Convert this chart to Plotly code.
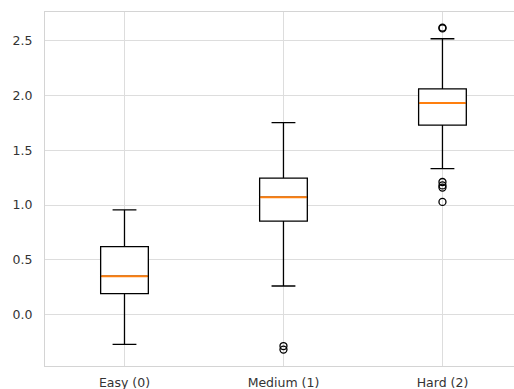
import plotly.graph_objects as go

categories = ["Easy (0)", "Medium (1)", "Hard (2)"]
positions = [1, 2, 3]
lower_whisker = [-0.270, 0.262, 1.333]
q1 = [0.192, 0.853, 1.730]
median = [0.351, 1.072, 1.931]
q3 = [0.621, 1.246, 2.061]
upper_whisker = [0.956, 1.753, 2.518]
outliers = [
    [],
    [-0.286, -0.318],
    [2.612, 2.620, 1.211, 1.180, 1.160, 1.029],
]

box_width = 0.3
fig = go.Figure()
for i, cat in enumerate(categories):
    fig.add_trace(go.Box(
        x=[positions[i]], q1=[q1[i]], median=[median[i]], q3=[q3[i]],
        lowerfence=[lower_whisker[i]], upperfence=[upper_whisker[i]],
        width=box_width, whiskerwidth=0.5, boxpoints=False,
        fillcolor="white", line=dict(color="black", width=1.3),
        showlegend=False, hoverinfo="skip",
    ))
    fig.add_trace(go.Scatter(
        x=[positions[i] - box_width / 2 + 0.004, positions[i] + box_width / 2 - 0.004],
        y=[median[i], median[i]], mode="lines",
        line=dict(color="#ff7f0e", width=2), showlegend=False, hoverinfo="skip",
    ))
    if outliers[i]:
        fig.add_trace(go.Scatter(
            x=[positions[i]] * len(outliers[i]), y=outliers[i], mode="markers",
            marker=dict(symbol="circle-open", size=7, color="black", line=dict(width=1.3)),
            showlegend=False, hoverinfo="skip",
        ))

fig.update_layout(
    width=514, height=389,
    margin=dict(l=45, r=0, t=12, b=23),
    plot_bgcolor="white", paper_bgcolor="white",
    font=dict(family="DejaVu Sans", size=12.5, color="#333333"),
    xaxis=dict(
        range=[0.5, 3.45], tickvals=positions, ticktext=categories,
        showgrid=True, gridcolor="#dddddd", gridwidth=1,
        showline=True, linecolor="#d4d4d4", linewidth=1.2, mirror=True,
        ticks="", ticklabelstandoff=5, zeroline=False,
    ),
    yaxis=dict(
        range=[-0.468, 2.762], tickvals=[0.0, 0.5, 1.0, 1.5, 2.0, 2.5],
        ticktext=["0.0", "0.5", "1.0", "1.5", "2.0", "2.5"],
        showgrid=True, gridcolor="#dddddd", gridwidth=1,
        showline=True, linecolor="#d4d4d4", linewidth=1.2,
        ticks="", ticklabelstandoff=9, zeroline=False,
    ),
)

fig.write_html("out.html")
